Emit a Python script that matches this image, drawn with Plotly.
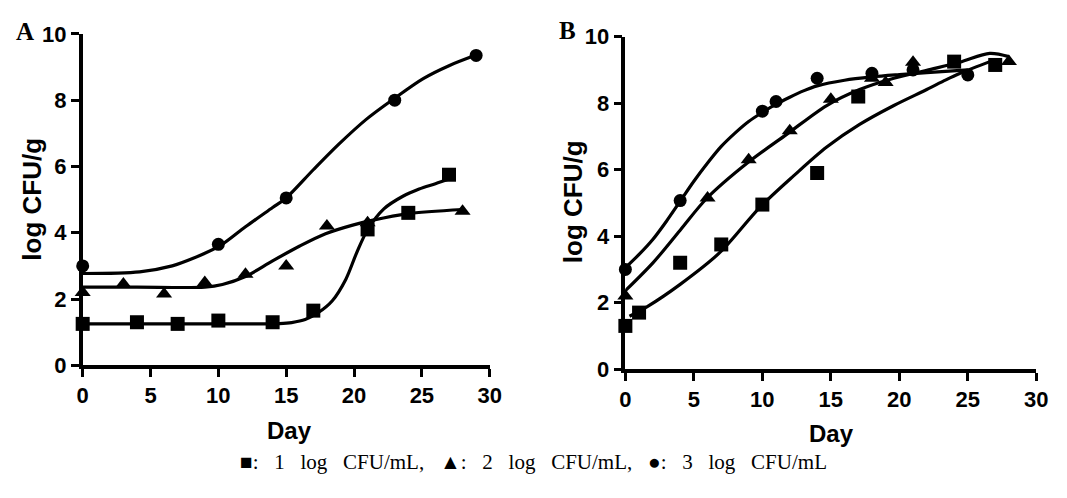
import plotly.graph_objects as go

# ---------------- Panel A : observed points ----------------
a_sq_x = [0, 4, 7, 10, 14, 17, 21, 24, 27]
a_sq_y = [1.25, 1.3, 1.25, 1.35, 1.3, 1.65, 4.1, 4.6, 5.75]
a_tri_x = [0, 3, 6, 9, 12, 15, 18, 21, 28]
a_tri_y = [2.2, 2.45, 2.15, 2.5, 2.75, 3.0, 4.2, 4.3, 4.65]
a_cir_x = [0, 10, 15, 23, 29]
a_cir_y = [3.0, 3.65, 5.05, 8.0, 9.35]

# Panel A : fitted growth curves
a_sq_fit_x = [0, 5, 10, 13, 14.5, 15.4, 16.4, 17.4, 18.4, 19.4, 20.2, 21, 22.2, 23.6, 24.8, 26, 27]
a_sq_fit_y = [1.25, 1.25, 1.25, 1.25, 1.26, 1.29, 1.38, 1.6, 1.95, 2.6, 3.4, 4.09, 4.72, 5.1, 5.32, 5.48, 5.62]
a_tri_fit_x = [0, 4, 9, 10.3, 12, 14, 16, 17.9, 19.9, 21.4, 23.9, 28]
a_tri_fit_y = [2.36, 2.36, 2.36, 2.44, 2.68, 3.15, 3.6, 3.97, 4.23, 4.38, 4.57, 4.7]
a_cir_fit_x = [0, 4.2, 6.6, 8.1, 10.1, 12, 14, 15, 17, 18.9, 20.9, 22.9, 25.1, 27, 29]
a_cir_fit_y = [2.77, 2.82, 3.0, 3.22, 3.6, 4.18, 4.76, 5.05, 5.9, 6.68, 7.42, 8.03, 8.65, 9.04, 9.36]

# ---------------- Panel B : observed points ----------------
b_sq_x = [0, 1, 4, 7, 10, 14, 17, 24, 27]
b_sq_y = [1.3, 1.7, 3.2, 3.75, 4.95, 5.9, 8.2, 9.25, 9.15]
b_tri_x = [0, 6, 9, 12, 15, 18, 19, 21, 28]
b_tri_y = [2.2, 5.15, 6.3, 7.17, 8.12, 8.75, 8.62, 9.23, 9.25]
b_cir_x = [0, 4, 10, 11, 14, 18, 21, 25]
b_cir_y = [3.0, 5.07, 7.76, 8.05, 8.75, 8.9, 9.0, 8.85]

# Panel B : fitted growth curves
b_sq_fit_x = [0.3, 1.6, 4.0, 6.9, 9.8, 12.3, 14.7, 17.1, 19.6, 22.0, 23.4, 24.4, 26.8]
b_sq_fit_y = [1.59, 1.88, 2.55, 3.51, 4.86, 5.82, 6.68, 7.36, 7.93, 8.41, 8.7, 8.89, 9.28]
b_tri_fit_x = [0, 2.06, 4.0, 5.95, 8.9, 11.8, 14.7, 17.1, 19.6, 22.0, 24.4, 26.6, 28.0]
b_tri_fit_y = [2.36, 3.22, 4.18, 5.14, 6.2, 7.07, 7.93, 8.41, 8.75, 8.99, 9.23, 9.5, 9.4]
b_cir_fit_x = [0, 1, 2, 3, 4, 5, 6, 7, 8, 9, 10, 11, 12, 13, 14, 16, 18, 20, 22, 25]
b_cir_fit_y = [3.05, 3.45, 3.9, 4.45, 5.05, 5.65, 6.2, 6.7, 7.1, 7.45, 7.72, 7.97, 8.18, 8.37, 8.52, 8.69, 8.79, 8.86, 8.92, 9.0]

x_ticks = [0, 5, 10, 15, 20, 25, 30]
y_ticks = [0, 2, 4, 6, 8, 10]
panel_labels = ["A", "B"]
x_title = "Day"
y_title = "log CFU/g"
caption = ("■:\u00a0\u00a0 1\u00a0\u00a0 log\u00a0\u00a0 CFU/mL,\u00a0\u00a0 ▲:\u00a0\u00a0 2\u00a0\u00a0 log\u00a0\u00a0 CFU/mL,"
           "\u00a0\u00a0 ●:\u00a0\u00a0 3\u00a0\u00a0 log\u00a0\u00a0 CFU/mL")

W, H = 1067, 498
fig = go.Figure()

line_style = dict(color="black", width=3.2, shape="spline", smoothing=0.9)


def add_panel(xa, ya, fits, points):
    for fx, fy in fits:
        fig.add_trace(go.Scatter(x=fx, y=fy, mode="lines", line=line_style,
                                 xaxis=xa, yaxis=ya, showlegend=False, hoverinfo="skip",
                                 cliponaxis=False))
    for (px, py), sym, size in points:
        fig.add_trace(go.Scatter(x=px, y=py, mode="markers",
                                 marker=dict(symbol=sym, size=size, color="black",
                                             line=dict(width=0)),
                                 xaxis=xa, yaxis=ya, showlegend=False, cliponaxis=False))


add_panel("x", "y",
          [(a_sq_fit_x, a_sq_fit_y), (a_tri_fit_x, a_tri_fit_y), (a_cir_fit_x, a_cir_fit_y)],
          [((a_sq_x, a_sq_y), "square", 14), ((a_tri_x, a_tri_y), "triangle-up", 14),
           ((a_cir_x, a_cir_y), "circle", 13)])
add_panel("x2", "y2",
          [(b_sq_fit_x, b_sq_fit_y), (b_tri_fit_x, b_tri_fit_y), (b_cir_fit_x, b_cir_fit_y)],
          [((b_sq_x, b_sq_y), "square", 14), ((b_tri_x, b_tri_y), "triangle-up", 14),
           ((b_cir_x, b_cir_y), "circle", 13)])

tickfont = dict(family="Liberation Sans, Arial, sans-serif", size=22, color="black", weight="bold")


def xaxis_style(domain, anchor):
    return dict(domain=domain, anchor=anchor, range=[0, 30], tickvals=x_ticks,
                showline=True, linecolor="black", linewidth=3.5, ticks="outside",
                ticklen=8, tickwidth=3, tickcolor="black", showgrid=False, zeroline=False,
                tickfont=tickfont, fixedrange=True)


def yaxis_style(domain, anchor):
    return dict(domain=domain, anchor=anchor, range=[0, 10], tickvals=y_ticks,
                showline=True, linecolor="black", linewidth=3.5, ticks="outside",
                ticklen=8, tickwidth=3, tickcolor="black", showgrid=False, zeroline=False,
                tickfont=tickfont, fixedrange=True)


def px_x(p):
    return p / W


def px_y(p):
    return 1 - p / H


fig.update_layout(
    width=W, height=H,
    margin=dict(l=0, r=0, t=0, b=0),
    paper_bgcolor="white", plot_bgcolor="white",
    xaxis=xaxis_style([px_x(78), px_x(492)], "y"),
    yaxis=yaxis_style([px_y(372), px_y(23)], "x"),
    xaxis2=xaxis_style([px_x(630), px_x(1048)], "y2"),
    yaxis2=yaxis_style([px_y(376), px_y(26)], "x2"),
)

title_font = dict(family="Liberation Sans, Arial, sans-serif", size=26, color="black", weight="bold")
xtitle_font = dict(family="Liberation Sans, Arial, sans-serif", size=24, color="black", weight="bold")
letter_font = dict(family="Liberation Serif, Times New Roman, serif", size=25, color="black", weight="bold")

annos = [
    dict(text=panel_labels[0], x=px_x(19), y=px_y(21), font=letter_font),
    dict(text=panel_labels[1], x=px_x(571), y=px_y(19), font=letter_font),
    dict(text=y_title, x=px_x(27), y=px_y(197), textangle=-90, font=title_font),
    dict(text=y_title, x=px_x(577), y=px_y(200), textangle=-90, font=title_font),
    dict(text=x_title, x=px_x(288), y=px_y(441), font=xtitle_font),
    dict(text=x_title, x=px_x(840), y=px_y(444), font=xtitle_font),
    dict(text=caption, x=px_x(537), y=px_y(474),
         font=dict(family="Liberation Serif, Times New Roman, serif", size=21, color="black")),
]
for a in annos:
    a.update(xref="paper", yref="paper", showarrow=False, xanchor="center", yanchor="middle")
fig.update_layout(annotations=annos)

fig.write_html("out.html")
